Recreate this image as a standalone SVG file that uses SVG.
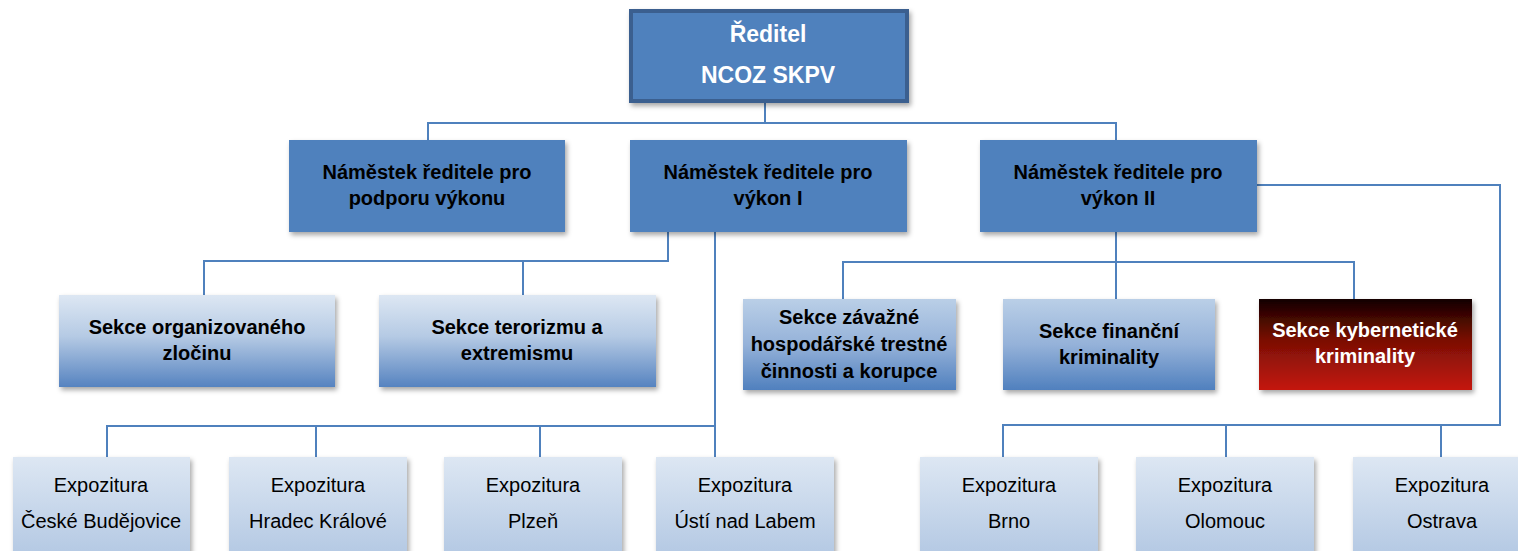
<svg xmlns="http://www.w3.org/2000/svg" width="1518" height="551" viewBox="0 0 1518 551">
<defs>
<filter id="sh" x="-10%" y="-10%" width="125%" height="130%">
<feDropShadow dx="2" dy="3" stdDeviation="2.5" flood-color="#000" flood-opacity="0.35"/>
</filter>
<linearGradient id="gLight" x1="0" y1="0" x2="0" y2="1">
<stop offset="0" stop-color="#dde7f3"/>
<stop offset="0.45" stop-color="#b5cae4"/>
<stop offset="1" stop-color="#5683c0"/>
</linearGradient>
<linearGradient id="gMid" x1="0" y1="0" x2="0" y2="1">
<stop offset="0" stop-color="#bacfe7"/>
<stop offset="0.5" stop-color="#95b2d9"/>
<stop offset="1" stop-color="#5080be"/>
</linearGradient>
<linearGradient id="gRed" x1="0" y1="0" x2="0" y2="1">
<stop offset="0" stop-color="#120000"/>
<stop offset="0.45" stop-color="#7a0f05"/>
<stop offset="1" stop-color="#c4190c"/>
</linearGradient>
<linearGradient id="gExp" x1="0" y1="0" x2="0" y2="1">
<stop offset="0" stop-color="#dde7f3"/>
<stop offset="1" stop-color="#b3c8e3"/>
</linearGradient>
</defs>
<style>
.ln{fill:none;stroke:#4f81bd;stroke-width:2}
.b2{fill:#4f81bd}
.t{font-family:"Liberation Sans",Arial,sans-serif;text-anchor:middle}
.hb{font-weight:bold;font-size:20px;fill:#000}
.hw{font-weight:bold;font-size:20px;fill:#fff}
.ex{font-size:20px;fill:#000}
</style>
<g id="connectors">
<path class="ln" d="M765 102 V123 M428 140 V123 H1116 V140"/>
<path class="ln" d="M668 232 V261 H204 V295 M523 261 V295"/>
<path class="ln" d="M715 232 V426 M107 457 V426 H715 V457 M316 426 V457 M540 426 V457"/>
<path class="ln" d="M1116 232 V262 M843 299 V262 H1354 V299 M1116 262 V299"/>
<path class="ln" d="M1257 185 H1500 V425 H1003 V457 M1226 425 V457 M1441 425 V457"/>
</g>
<g id="reditel">
<rect x="631" y="11" width="276" height="90" fill="#4f81bd" stroke="#3a5f8f" stroke-width="4" filter="url(#sh)"/>
<text class="t" x="768" y="42" font-weight="bold" font-size="23" fill="#fff">Ředitel</text>
<text class="t" x="768" y="83" font-weight="bold" font-size="23" fill="#fff">NCOZ SKPV</text>
</g>
<g id="namestek-podpora">
<rect class="b2" x="289" y="140" width="276" height="92" filter="url(#sh)"/>
<text class="t hb" x="427" y="179">Náměstek ředitele pro</text>
<text class="t hb" x="427" y="205">podporu výkonu</text>
</g>
<g id="namestek-vykon1">
<rect class="b2" x="630" y="140" width="277" height="92" filter="url(#sh)"/>
<text class="t hb" x="768" y="179">Náměstek ředitele pro</text>
<text class="t hb" x="768" y="205">výkon I</text>
</g>
<g id="namestek-vykon2">
<rect class="b2" x="980" y="140" width="277" height="92" filter="url(#sh)"/>
<text class="t hb" x="1118" y="179">Náměstek ředitele pro</text>
<text class="t hb" x="1118" y="205">výkon II</text>
</g>
<g id="sekce-oz">
<rect x="59" y="295" width="276" height="92" fill="url(#gLight)" filter="url(#sh)"/>
<text class="t hb" x="197" y="334">Sekce organizovaného</text>
<text class="t hb" x="197" y="360">zločinu</text>
</g>
<g id="sekce-te">
<rect x="379" y="295" width="277" height="92" fill="url(#gLight)" filter="url(#sh)"/>
<text class="t hb" x="517" y="334">Sekce terorizmu a</text>
<text class="t hb" x="517" y="360">extremismu</text>
</g>
<g id="sekce-zhtc">
<rect x="743" y="299" width="213" height="91" fill="url(#gMid)" filter="url(#sh)"/>
<text class="t hb" x="849" y="324">Sekce závažné</text>
<text class="t hb" x="849" y="351">hospodářské trestné</text>
<text class="t hb" x="849" y="378">činnosti a korupce</text>
</g>
<g id="sekce-fk">
<rect x="1003" y="299" width="212" height="91" fill="url(#gMid)" filter="url(#sh)"/>
<text class="t hb" x="1109" y="338">Sekce finanční</text>
<text class="t hb" x="1109" y="364">kriminality</text>
</g>
<g id="sekce-kk">
<rect x="1259" y="299" width="213" height="91" fill="url(#gRed)" filter="url(#sh)"/>
<text class="t hw" x="1365" y="337">Sekce kybernetické</text>
<text class="t hw" x="1365" y="363">kriminality</text>
</g>
<g id="exp-cb">
<rect x="13" y="457" width="177" height="100" fill="url(#gExp)" filter="url(#sh)"/>
<text class="t ex" x="101" y="492">Expozitura</text>
<text class="t ex" x="101" y="528">České Budějovice</text>
</g>
<g id="exp-hk">
<rect x="229" y="457" width="178" height="100" fill="url(#gExp)" filter="url(#sh)"/>
<text class="t ex" x="318" y="492">Expozitura</text>
<text class="t ex" x="318" y="528">Hradec Králové</text>
</g>
<g id="exp-pl">
<rect x="444" y="457" width="178" height="100" fill="url(#gExp)" filter="url(#sh)"/>
<text class="t ex" x="533" y="492">Expozitura</text>
<text class="t ex" x="533" y="528">Plzeň</text>
</g>
<g id="exp-ul">
<rect x="656" y="457" width="178" height="100" fill="url(#gExp)" filter="url(#sh)"/>
<text class="t ex" x="745" y="492">Expozitura</text>
<text class="t ex" x="745" y="528">Ústí nad Labem</text>
</g>
<g id="exp-br">
<rect x="920" y="457" width="178" height="100" fill="url(#gExp)" filter="url(#sh)"/>
<text class="t ex" x="1009" y="492">Expozitura</text>
<text class="t ex" x="1009" y="528">Brno</text>
</g>
<g id="exp-ol">
<rect x="1136" y="457" width="178" height="100" fill="url(#gExp)" filter="url(#sh)"/>
<text class="t ex" x="1225" y="492">Expozitura</text>
<text class="t ex" x="1225" y="528">Olomouc</text>
</g>
<g id="exp-os">
<rect x="1353" y="457" width="178" height="100" fill="url(#gExp)" filter="url(#sh)"/>
<text class="t ex" x="1442" y="492">Expozitura</text>
<text class="t ex" x="1442" y="528">Ostrava</text>
</g>
</svg>
